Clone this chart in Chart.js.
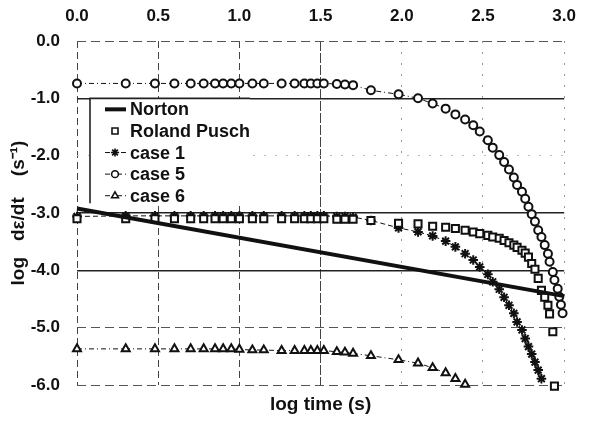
<!DOCTYPE html>
<html>
<head>
<meta charset="utf-8">
<title>Creep rate vs time</title>
<script src="https://cdn.jsdelivr.net/npm/chart.js@4/dist/chart.umd.min.js"></script>
<style>
  html, body { margin: 0; padding: 0; background: #fff; }
  #wrap { width: 590px; height: 422px; }
</style>
</head>
<body>
<div id="wrap"><canvas id="c" width="590" height="422"></canvas></div>
<script>
// Axis tick labels
const xTicks = [0, 0.5, 1.0, 1.5, 2.0, 2.5, 3.0];
const yTicks = [0, -1, -2, -3, -4, -5, -6];

// Norton law (straight line in log-log)
const nortonT = [0, 3.0];
const nortonRate = [-2.92, -4.45];

// Roland Pusch
const puschT = [0, 0.30, 0.48, 0.60, 0.70, 0.78, 0.85, 0.90, 0.95, 1.00, 1.08, 1.15, 1.26, 1.34, 1.40, 1.44, 1.48, 1.52, 1.60, 1.65, 1.70, 1.81, 1.98,
  2.10, 2.19, 2.27, 2.33, 2.39, 2.44, 2.48, 2.53, 2.56, 2.60, 2.63, 2.66, 2.69, 2.71, 2.74, 2.76, 2.78, 2.80, 2.82, 2.84, 2.86, 2.88, 2.90, 2.91, 2.93, 2.94];
const puschRate = [-3.10, -3.10, -3.10, -3.10, -3.10, -3.10, -3.10, -3.10, -3.10, -3.10, -3.10, -3.10, -3.10, -3.10, -3.10, -3.10, -3.10, -3.10, -3.11, -3.11, -3.11, -3.13, -3.18,
  -3.19, -3.23, -3.25, -3.27, -3.30, -3.33, -3.36, -3.39, -3.42, -3.44, -3.48, -3.52, -3.56, -3.60, -3.65, -3.70, -3.77, -3.88, -3.98, -4.14, -4.35, -4.47, -4.61, -4.76, -5.07, -6.02];

// case 1
const case1T = [0, 0.30, 0.48, 0.60, 0.70, 0.78, 0.85, 0.90, 0.95, 1.00, 1.08, 1.15, 1.26, 1.34, 1.40, 1.44, 1.48, 1.52, 1.60, 1.65, 1.70, 1.81, 1.98,
  2.10, 2.19, 2.27, 2.33, 2.39, 2.44, 2.48, 2.53, 2.56, 2.60, 2.63, 2.66, 2.69, 2.71, 2.74, 2.76, 2.78, 2.80, 2.82, 2.84, 2.86];
const case1Rate = [-3.06, -3.05, -3.05, -3.05, -3.05, -3.05, -3.05, -3.05, -3.05, -3.05, -3.05, -3.05, -3.05, -3.05, -3.05, -3.05, -3.05, -3.05, -3.06, -3.06, -3.07, -3.13, -3.26,
  -3.33, -3.40, -3.49, -3.59, -3.71, -3.82, -3.94, -4.07, -4.20, -4.33, -4.47, -4.61, -4.75, -4.90, -5.04, -5.19, -5.33, -5.46, -5.60, -5.74, -5.89];

// case 5
const case5T = [0, 0.30, 0.48, 0.60, 0.70, 0.78, 0.85, 0.90, 0.95, 1.00, 1.08, 1.15, 1.26, 1.34, 1.40, 1.44, 1.48, 1.52, 1.60, 1.65, 1.70, 1.81, 1.98,
  2.10, 2.19, 2.27, 2.33, 2.39, 2.44, 2.48, 2.53, 2.56, 2.60, 2.63, 2.66, 2.69, 2.71, 2.74, 2.76, 2.78, 2.80, 2.82, 2.84, 2.86, 2.88, 2.90, 2.91, 2.93, 2.94, 2.96, 2.97, 2.98, 2.99];
const case5Rate = [-0.74, -0.74, -0.74, -0.74, -0.74, -0.74, -0.74, -0.74, -0.74, -0.74, -0.74, -0.74, -0.74, -0.74, -0.74, -0.74, -0.74, -0.74, -0.75, -0.76, -0.77, -0.86, -0.93,
  -1.00, -1.09, -1.18, -1.28, -1.37, -1.47, -1.58, -1.73, -1.86, -1.99, -2.11, -2.24, -2.38, -2.51, -2.63, -2.75, -2.89, -3.02, -3.15, -3.30, -3.42, -3.56, -3.71, -3.85, -4.03, -4.17, -4.32, -4.46, -4.60, -4.75];

// case 6
const case6T = [0, 0.30, 0.48, 0.60, 0.70, 0.78, 0.85, 0.90, 0.95, 1.00, 1.08, 1.15, 1.26, 1.34, 1.40, 1.44, 1.48, 1.52, 1.60, 1.65, 1.70, 1.81, 1.98,
  2.10, 2.19, 2.27, 2.33, 2.39];
const case6Rate = [-5.37, -5.37, -5.37, -5.37, -5.37, -5.37, -5.37, -5.37, -5.37, -5.38, -5.39, -5.39, -5.40, -5.40, -5.40, -5.40, -5.40, -5.40, -5.42, -5.43, -5.45, -5.49, -5.56,
  -5.62, -5.70, -5.79, -5.89, -5.99];

const pts = (xs, ys) => xs.map((x, i) => ({ x: x, y: ys[i] }));

const INK = '#111';
const FONT = '"Liberation Sans", Arial, Helvetica, sans-serif';

// Grid line styling per tick value
function yGridColor(v) {
  if (v === -1 || v === -3 || v === -4) return '#222';
  if (v === -2) return '#bbb';
  return '#555';
}
function yGridDash(v) {
  if (v === -1 || v === -3 || v === -4) return [];
  if (v === -2) return [2, 9];
  return [9, 5];
}
function xGridColor(v) {
  if (v >= 2) return '#999';
  return '#444';
}
function xGridDash(v) {
  if (v >= 2) return [2, 9];
  if (v === 1.5) return [10, 2];
  return [7, 4];
}

// Legend drawn inside the plot, anchored at the -1.0 gridline
const insideLegend = {
  id: 'insideLegend',
  afterDraw(chart) {
    const { ctx, chartArea, scales } = chart;
    const left = chartArea.left + 13;
    const top = scales.y.getPixelForValue(-1);
    const w = 160, h = 105;
    ctx.save();
    ctx.fillStyle = '#fff';
    ctx.fillRect(left, top, w, h);
    ctx.strokeStyle = '#222';
    ctx.lineWidth = 1.6;
    ctx.beginPath();
    ctx.moveTo(left, top + h);
    ctx.lineTo(left, top);
    ctx.lineTo(left + w, top);
    ctx.stroke();

    ctx.font = 'bold 18px ' + FONT;
    ctx.textBaseline = 'middle';
    ctx.textAlign = 'left';
    chart.data.datasets.forEach((ds, i) => {
      const y = top + 11 + i * 21.6;
      const x0 = left + 15, x1 = left + 36, xm = left + 25;
      if (ds.showLine !== false) {
        ctx.save();
        ctx.strokeStyle = INK;
        ctx.lineWidth = ds.borderWidth;
        ctx.setLineDash(ds.borderDash || []);
        ctx.beginPath();
        ctx.moveTo(x0, y);
        ctx.lineTo(x1, y);
        ctx.stroke();
        ctx.restore();
      }
      if (ds.pointRadius > 0) {
        ctx.save();
        ctx.strokeStyle = INK;
        ctx.fillStyle = ds.pointBackgroundColor || '#fff';
        Chart.helpers.drawPoint(ctx, {
          pointStyle: ds.pointStyle,
          radius: ds.pointRadius * 0.85,
          borderWidth: ds.pointBorderWidth,
          rotation: 0
        }, xm, y);
        ctx.restore();
      }
      ctx.fillStyle = INK;
      ctx.fillText(ds.label, left + 40, y + 1);
    });
    ctx.restore();
  }
};

new Chart(document.getElementById('c'), {
  type: 'scatter',
  data: {
    datasets: [
      {
        label: 'Norton', data: pts(nortonT, nortonRate), showLine: true,
        borderColor: INK, borderWidth: 4, pointRadius: 0, clip: false
      },
      {
        label: 'Roland Pusch', data: pts(puschT, puschRate), showLine: false,
        pointStyle: 'rect', pointRadius: 5, pointBorderWidth: 2,
        borderColor: INK, pointBorderColor: INK, pointBackgroundColor: '#fff', clip: false
      },
      {
        label: 'case 1', data: pts(case1T, case1Rate), showLine: true,
        borderColor: INK, borderWidth: 1, borderDash: [5, 3],
        pointStyle: 'star', pointRadius: 4.8, pointBorderWidth: 2,
        pointBorderColor: INK, pointBackgroundColor: INK, clip: false
      },
      {
        label: 'case 5', data: pts(case5T, case5Rate), showLine: true,
        borderColor: INK, borderWidth: 1, borderDash: [5, 3, 1, 3],
        pointStyle: 'circle', pointRadius: 4, pointBorderWidth: 2,
        pointBorderColor: INK, pointBackgroundColor: '#fff', clip: false
      },
      {
        label: 'case 6', data: pts(case6T, case6Rate), showLine: true,
        borderColor: INK, borderWidth: 1, borderDash: [5, 3, 1, 3],
        pointStyle: 'triangle', pointRadius: 4.6, pointBorderWidth: 2,
        pointBorderColor: INK, pointBackgroundColor: '#fff', clip: false
      }
    ]
  },
  options: {
    responsive: false,
    animation: false,
    devicePixelRatio: 1,
    layout: { padding: { left: 0, right: 13, top: 0, bottom: 0 } },
    plugins: { legend: { display: false }, tooltip: { enabled: false } },
    scales: {
      x: {
        position: 'top', min: 0, max: 3,
        afterBuildTicks: (s) => { s.ticks = xTicks.map(v => ({ value: v })); },
        afterFit: (s) => { s.height = 41; },
        ticks: {
          color: INK, padding: 14, maxRotation: 0,
          font: { family: FONT, size: 17, weight: 'bold' },
          callback: (v) => Number(v).toFixed(1)
        },
        grid: {
          drawTicks: false, lineWidth: 1,
          color: (c) => xGridColor(c.tick ? c.tick.value : 0)
        },
        border: { display: false, dash: (c) => xGridDash(c.tick ? c.tick.value : 0) }
      },
      x2: {
        type: 'linear', position: 'bottom', min: 0, max: 3,
        afterFit: (s) => { s.height = 37; },
        ticks: { display: false },
        grid: { display: false, drawTicks: false },
        border: { display: false },
        title: {
          display: true, text: 'log time (s)', color: INK,
          font: { family: FONT, size: 19, weight: 'bold' },
          padding: { top: 0, bottom: 6 }
        }
      },
      y: {
        min: -6, max: 0,
        afterBuildTicks: (s) => { s.ticks = yTicks.map(v => ({ value: v })); },
        afterFit: (s) => { s.width = 77; },
        ticks: {
          color: INK, padding: 17,
          font: { family: FONT, size: 17, weight: 'bold' },
          callback: (v) => Number(v).toFixed(1)
        },
        grid: {
          drawTicks: false,
          color: (c) => yGridColor(c.tick ? c.tick.value : 0),
          lineWidth: (c) => {
            const v = c.tick ? c.tick.value : 0;
            return (v === -1 || v === -3 || v === -4) ? 1.4 : 1;
          }
        },
        border: { display: false, dash: (c) => yGridDash(c.tick ? c.tick.value : 0) },
        title: {
          display: true, text: 'log   dε/dt    (s\u207B\u00B9)', color: INK,
          font: { family: FONT, size: 19, weight: 'bold' },
          padding: { top: 7, bottom: 0 }
        }
      }
    }
  },
  plugins: [insideLegend]
});
</script>
</body>
</html>
